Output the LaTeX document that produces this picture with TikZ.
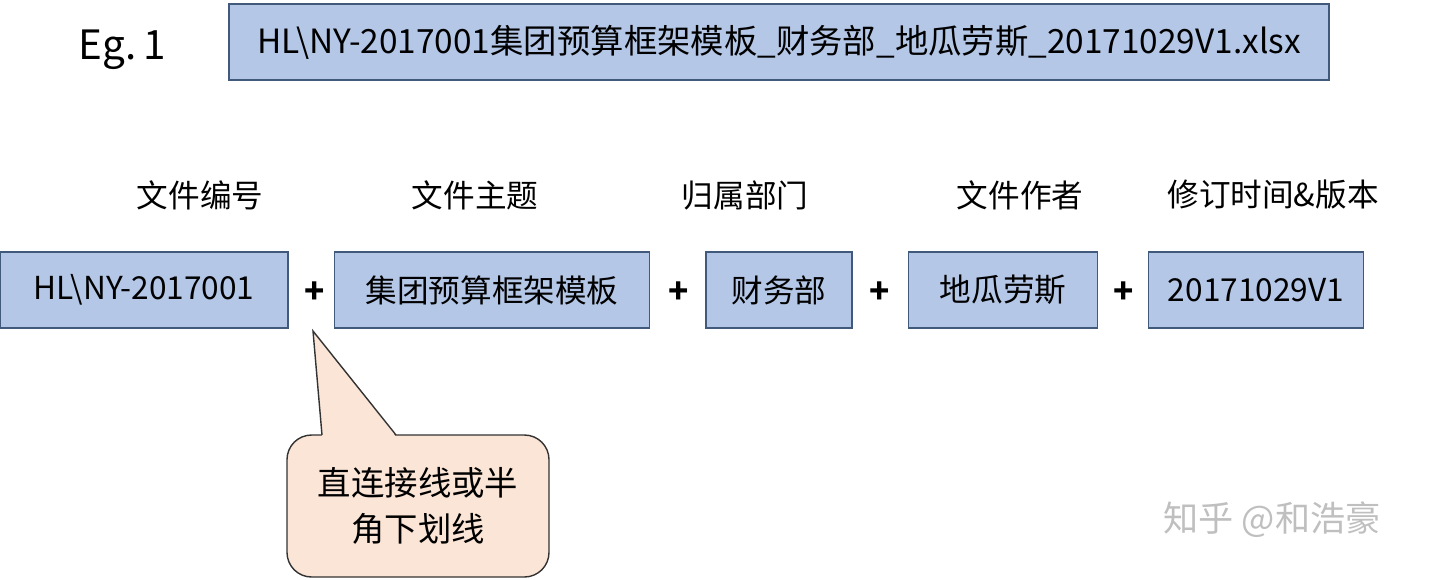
\documentclass[tikz,border=0pt]{standalone}
\usepackage{fontspec}
\setmainfont{Noto Sans CJK SC}
\usetikzlibrary{positioning}
\definecolor{boxfill}{HTML}{B4C7E7}
\definecolor{boxline}{HTML}{41597A}
\definecolor{notefill}{HTML}{FBE5D6}
\tikzset{
  part/.style={draw=boxline,fill=boxfill,line width=0.8pt,minimum height=76*0.02cm,inner sep=0pt,font=\fontsize{18}{20}\selectfont},
  head/.style={font=\fontsize{18}{20}\selectfont},
  plus/.style={font=\fontsize{19}{20}\selectfont\bfseries},
}
\begin{document}
\begin{tikzpicture}[x=0.02cm,y=-0.02cm]
  \useasboundingbox (0,0) rectangle (1440,579);

  \node[font=\fontsize{23}{26}\selectfont] (eg) at (122,50) {Eg.\,1};
  \node[part,minimum width=1100*0.02cm,font=\fontsize{19}{22}\selectfont] (file) at (779,42)
    {HL\textbackslash NY-2017001集团预算框架模板\_财务部\_地瓜劳斯\_20171029V1.xlsx};

  % parts
  \node[part,minimum width=288*0.02cm] (num) at (144,290) {HL\textbackslash NY-2017001};
  \node[part,minimum width=315*0.02cm] (topic) at (492,290) {集团预算框架模板};
  \node[part,minimum width=146*0.02cm] (dept) at (779,290) {财务部};
  \node[part,minimum width=189*0.02cm] (author) at (1003,290) {地瓜劳斯};
  \node[part,minimum width=215*0.02cm] (ver) at (1256,290) {20171029V1};

  % headers
  \node[head] (h1) at (200,195) {文件编号};
  \node[head] (h2) at (475,195) {文件主题};
  \node[head] (h3) at (745,195) {归属部门};
  \node[head] (h4) at (1020,195) {文件作者};
  \node[head] (h5) at (1273,195) {修订时间\&版本};

  % plus signs
  \node[plus] (p1) at (315,293) {+};
  \node[plus] (p2) at (679,293) {+};
  \node[plus] (p3) at (880,293) {+};
  \node[plus] (p4) at (1124,293) {+};

  % callout
  \node[draw=black!80,fill=notefill,line width=0.8pt,rounded corners=14pt,
        minimum width=262*0.02cm,minimum height=142*0.02cm,align=center,
        font=\fontsize{19}{26}\selectfont] (note) at (418,506)
    {直连接线或半\\角下划线};
  \coordinate (tip) at (313,331);
  \coordinate (nl) at (322,435);
  \coordinate (nr) at (396,435);
  \fill[notefill] ([yshift=-1pt]nl) -- (tip) -- ([yshift=-1pt]nr) -- cycle;
  \draw[black!80,line width=0.8pt] (nl) -- (tip) -- (nr);

  \node[text=black!25,font=\fontsize{20}{22}\selectfont] (mark) at (1272,520) {知乎 @和浩豪};
\end{tikzpicture}
\end{document}
